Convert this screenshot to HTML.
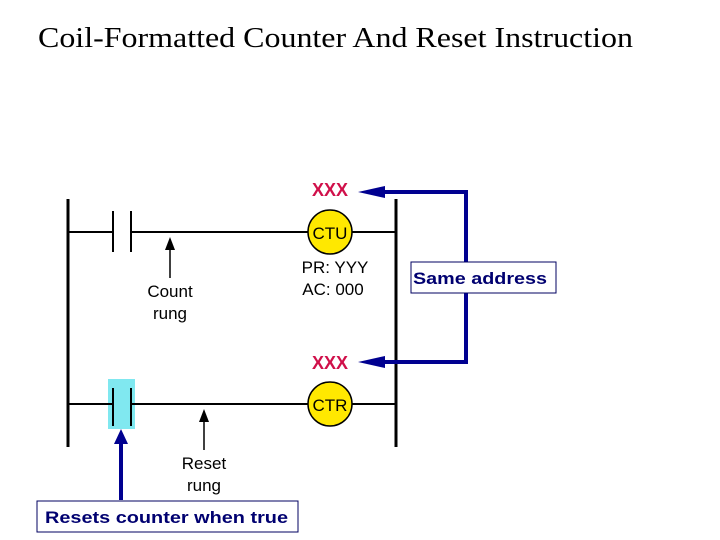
<!DOCTYPE html>
<html><head><style>body{margin:0;background:#fff}svg{display:block}</style></head>
<body>
<svg width="720" height="540" xmlns="http://www.w3.org/2000/svg">
<text x="38" y="47" font-family="Liberation Serif, serif" font-size="29" textLength="595" lengthAdjust="spacingAndGlyphs">Coil-Formatted Counter And Reset Instruction</text>
<g stroke="#000">
<line x1="68" y1="199" x2="68" y2="447" stroke-width="3"/>
<line x1="396" y1="199" x2="396" y2="447" stroke-width="3"/>
<line x1="68" y1="232" x2="113" y2="232" stroke-width="2"/>
<line x1="131" y1="232" x2="308" y2="232" stroke-width="2"/>
<line x1="352" y1="232" x2="396" y2="232" stroke-width="2"/>
<line x1="113" y1="211" x2="113" y2="252" stroke-width="2"/>
<line x1="131" y1="211" x2="131" y2="252" stroke-width="2"/>
</g>
<rect x="108" y="379" width="27" height="50" fill="#80e8f0"/>
<g stroke="#000">
<line x1="68" y1="404" x2="113" y2="404" stroke-width="2"/>
<line x1="131" y1="404" x2="308" y2="404" stroke-width="2"/>
<line x1="352" y1="404" x2="396" y2="404" stroke-width="2"/>
<line x1="113" y1="388" x2="113" y2="426" stroke-width="2"/>
<line x1="131" y1="388" x2="131" y2="426" stroke-width="2"/>
<line x1="170" y1="278" x2="170" y2="246" stroke-width="1.5"/>
<line x1="204" y1="450" x2="204" y2="418" stroke-width="1.5"/>
</g>
<polygon points="170,237 165,250 175,250" fill="#000"/>
<polygon points="204,409 199,422 209,422" fill="#000"/>
<circle cx="330" cy="232" r="22" fill="#ffe800" stroke="#000" stroke-width="1.5"/>
<circle cx="330" cy="404" r="22" fill="#ffe800" stroke="#000" stroke-width="1.5"/>
<g font-family="Liberation Sans, sans-serif" font-size="17" text-anchor="middle">
<text x="330" y="239">CTU</text>
<text x="330" y="411">CTR</text>
<text x="170" y="297">Count</text>
<text x="170" y="319">rung</text>
<text x="204" y="469">Reset</text>
<text x="204" y="491">rung</text>
<text x="335" y="273">PR: YYY</text>
<text x="333" y="295">AC: 000</text>
</g>
<g font-family="Liberation Sans, sans-serif" font-size="18" font-weight="bold" fill="#d0104a" text-anchor="middle">
<text x="330" y="196">XXX</text>
<text x="330" y="369">XXX</text>
</g>
<g fill="none" stroke="#000090" stroke-width="4">
<polyline points="380,192 466,192 466,362 380,362"/>
<line x1="121" y1="500" x2="121" y2="440"/>
</g>
<polygon points="358,192 385,186 385,198" fill="#000090"/>
<polygon points="358,362 385,356 385,368" fill="#000090"/>
<polygon points="121,429 114,444 128,444" fill="#000090"/>
<rect x="411" y="262" width="145" height="31" fill="#fff" stroke="#000060"/>
<text x="413" y="284" font-family="Liberation Sans, sans-serif" font-size="17" font-weight="bold" fill="#000070" textLength="134" lengthAdjust="spacingAndGlyphs">Same address</text>
<rect x="37" y="501" width="261" height="31" fill="#fff" stroke="#000060"/>
<text x="45" y="523" font-family="Liberation Sans, sans-serif" font-size="17" font-weight="bold" fill="#000070" textLength="243" lengthAdjust="spacingAndGlyphs">Resets counter when true</text>
</svg>
</body></html>
